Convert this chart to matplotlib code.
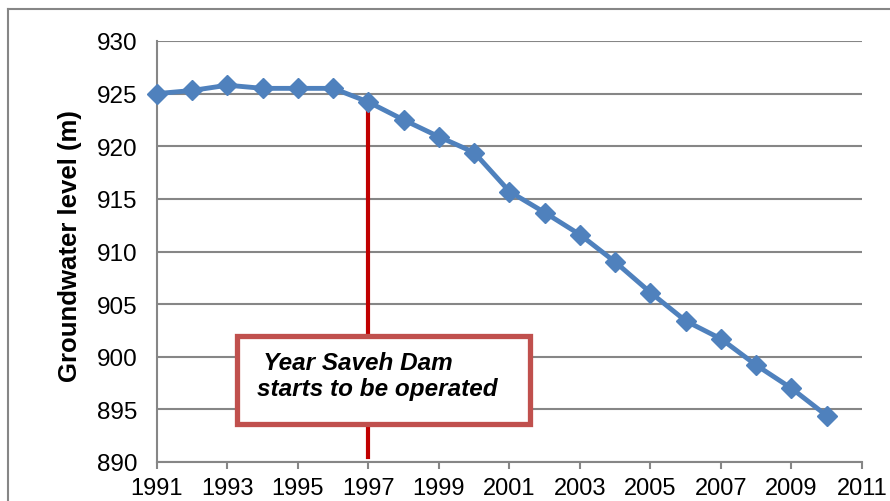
import matplotlib
matplotlib.use("Agg")
import matplotlib.pyplot as plt
from matplotlib.patches import Rectangle
from matplotlib.lines import Line2D

plt.rcParams['font.family'] = ['Liberation Sans', 'DejaVu Sans']

# Groundwater level
years = [1991, 1992, 1993, 1994, 1995, 1996, 1997, 1998, 1999, 2000,
         2001, 2002, 2003, 2004, 2005, 2006, 2007, 2008, 2009, 2010]
level = [925.0, 925.3, 925.8, 925.5, 925.5, 925.5, 924.2, 922.5, 920.9, 919.4,
         915.7, 913.7, 911.6, 909.0, 906.1, 903.4, 901.7, 899.2, 897.0, 894.4]
dam_year = 1997
x_ticks = list(range(1991, 2012, 2))
y_ticks = list(range(890, 931, 5))
note = " Year Saveh Dam\nstarts to be operated"

grid_col = '#868686'

fig = plt.figure(figsize=(8.9, 5.02), dpi=100)
ax = fig.add_axes([157/890, 39/502, 705/890, 421/502])

# outer chart-area frame (cropped at right and bottom)
fig.add_artist(Line2D([8/890, 1.0], [1 - 10/502, 1 - 10/502], color=grid_col, lw=1.5))
fig.add_artist(Line2D([8/890, 8/890], [0.0, 1 - 10/502], color=grid_col, lw=1.5))

ax.plot(years, level, color='#4F81BD', lw=3.5, marker='D', markersize=10.5,
        zorder=4, clip_on=False)

# vertical marker for dam start
ax.plot([dam_year, dam_year], [level[years.index(dam_year)], 890.5],
        color='#C00000', lw=3, zorder=3)

# annotation box
ax.add_patch(Rectangle((1993.28, 893.6), 8.3, 8.4, facecolor='white',
                       edgecolor='#C0504D', lw=3.8, zorder=5))
ax.text(1993.85, 898.2, note, fontsize=17.5, fontweight='bold', fontstyle='italic',
        ha='left', va='center', linespacing=1.2, zorder=6)

ax.set_xlim(1991, 2011)
ax.set_ylim(890, 930)
ax.set_xticks(x_ticks)
ax.set_yticks(y_ticks)
ax.yaxis.grid(True, color=grid_col, lw=1.5)
ax.set_axisbelow(True)

for s in ['top', 'right']:
    ax.spines[s].set_visible(False)
for s in ['left', 'bottom']:
    ax.spines[s].set_color(grid_col)
    ax.spines[s].set_linewidth(1.5)

ax.tick_params(axis='x', length=5, width=1.5, color=grid_col, pad=6, labelsize=17)
ax.tick_params(axis='y', length=0, pad=14, labelsize=17.5)

ax.set_ylabel('Groundwater level (m)', fontsize=18.5, fontweight='bold')
ax.yaxis.set_label_coords(-0.107, 0.515)

fig.savefig('out.png', dpi=100)
